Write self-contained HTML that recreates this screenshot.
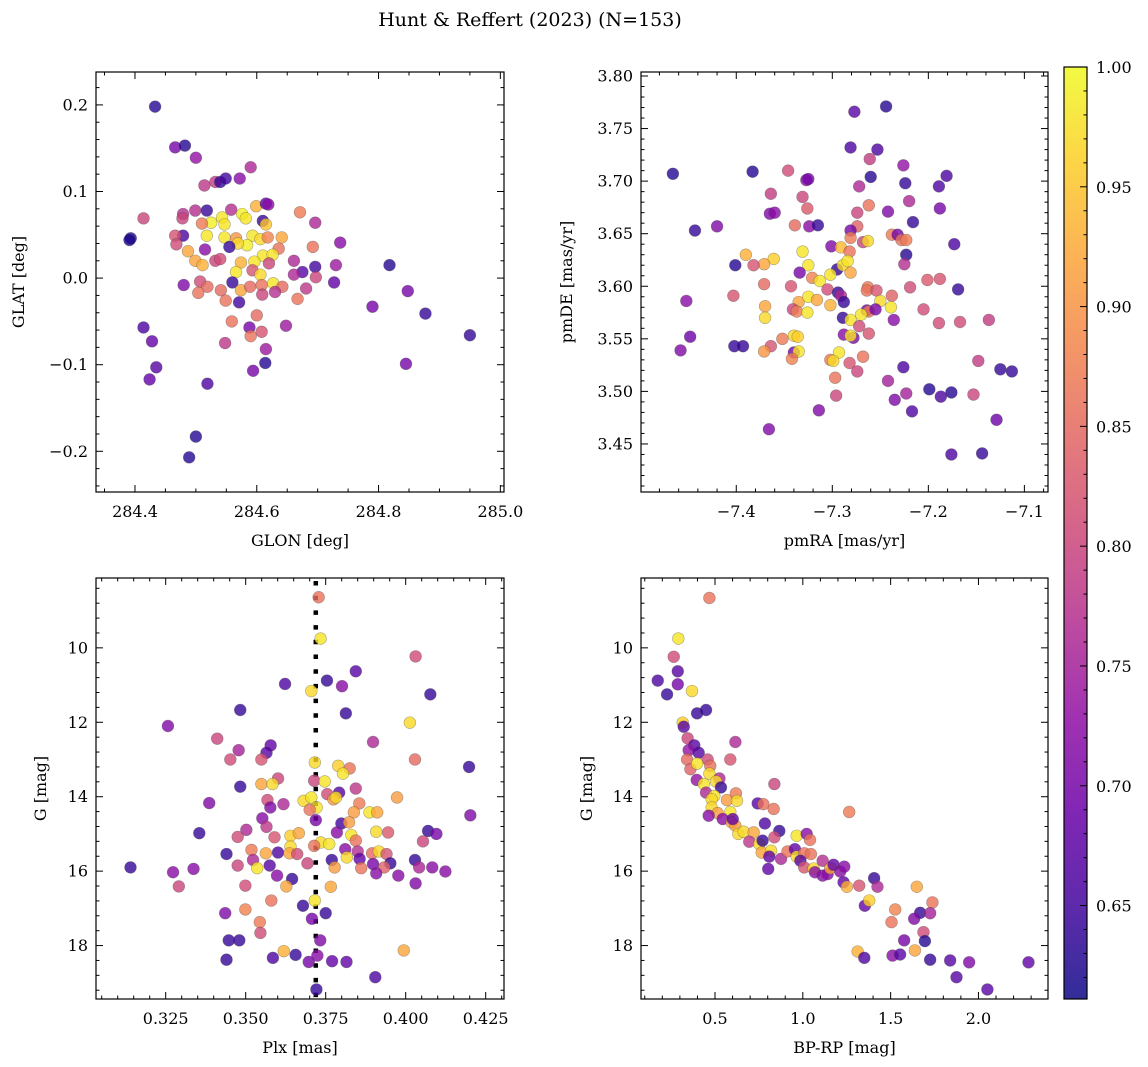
<!DOCTYPE html>
<html><head><meta charset="utf-8">
<style>
html,body{margin:0;padding:0;background:#fff;}
svg{display:block;font-family:"DejaVu Serif","Liberation Serif",serif;}
</style></head>
<body>
<svg id="fig" width="1148" height="1067" viewBox="0 0 1148 1067" xmlns="http://www.w3.org/2000/svg">
<text x="530" y="26" font-size="19" text-anchor="middle">Hunt &amp; Reffert (2023) (N=153)</text>
</svg>
<script>
// ---- Panel 1: GLON / GLAT ----
const glonVals=[284.433,284.466,284.482,284.500,284.590,284.514,284.532,284.540,284.549,284.572,284.599,284.615,284.619,284.671,284.696,284.414,284.393,284.391,284.479,284.478,284.499,284.518,284.558,284.576,284.582,284.543,284.525,284.510,284.547,284.610,284.615,284.479,284.466,284.468,284.518,284.547,284.566,284.593,284.606,284.618,284.641,284.737,284.692,284.636,284.584,284.569,284.555,284.515,284.487,284.610,284.626,284.499,284.511,284.532,284.540,284.574,284.596,284.593,284.620,284.661,284.696,284.730,284.818,284.566,284.606,284.675,284.661,284.697,284.727,284.560,284.480,284.507,284.519,284.504,284.541,284.574,284.589,284.608,284.627,284.642,284.681,284.609,284.630,284.667,284.549,284.571,284.848,284.790,284.877,284.950,284.600,284.559,284.648,284.588,284.590,284.608,284.414,284.428,284.548,284.615,284.614,284.845,284.594,284.435,284.424,284.519,284.500,284.489];
const glatVals=[0.198,0.151,0.153,0.139,0.128,0.107,0.111,0.111,0.115,0.115,0.083,0.086,0.085,0.076,0.064,0.069,0.046,0.044,0.074,0.069,0.078,0.078,0.079,0.074,0.069,0.070,0.064,0.063,0.062,0.066,0.062,0.049,0.049,0.039,0.049,0.047,0.046,0.049,0.045,0.047,0.047,0.041,0.036,0.034,0.038,0.040,0.036,0.033,0.031,0.026,0.027,0.020,0.015,0.020,0.022,0.018,0.019,0.009,0.017,0.020,0.013,0.015,0.015,0.007,0.004,0.007,0.004,0.001,-0.005,-0.005,-0.008,-0.004,-0.010,-0.017,-0.014,-0.014,-0.010,-0.008,-0.006,-0.010,-0.012,-0.019,-0.016,-0.024,-0.026,-0.028,-0.015,-0.033,-0.041,-0.066,-0.043,-0.050,-0.055,-0.057,-0.067,-0.062,-0.057,-0.073,-0.075,-0.082,-0.098,-0.099,-0.107,-0.103,-0.117,-0.122,-0.183,-0.207];
const posProb1=[0.63,0.70,0.63,0.73,0.76,0.78,0.79,0.64,0.65,0.72,0.93,0.68,0.72,0.87,0.76,0.80,0.63,0.62,0.77,0.80,0.77,0.64,0.77,0.99,0.98,0.98,0.99,0.87,0.98,0.64,0.95,0.66,0.82,0.81,0.98,0.98,0.90,0.98,0.97,0.88,0.92,0.72,0.86,0.86,0.99,0.97,0.64,0.72,0.92,0.98,0.98,0.92,0.93,0.80,0.81,0.93,0.98,0.82,0.80,0.76,0.65,0.74,0.63,0.98,0.97,0.67,0.76,0.80,0.68,0.64,0.71,0.81,0.85,0.86,0.85,0.92,0.85,0.86,0.98,0.85,0.78,0.80,0.77,0.86,0.86,0.65,0.70,0.70,0.64,0.64,0.85,0.86,0.74,0.70,0.86,0.82,0.66,0.68,0.78,0.74,0.63,0.70,0.70,0.67,0.68,0.66,0.63,0.63];

// ---- Panel 2: pmRA / pmDE ----
const pmraVals=[-7.466,-7.383,-7.346,-7.327,-7.325,-7.364,-7.331,-7.326,-7.365,-7.360,-7.443,-7.420,-7.339,-7.324,-7.315,-7.277,-7.244,-7.281,-7.253,-7.261,-7.226,-7.260,-7.272,-7.224,-7.181,-7.189,-7.220,-7.262,-7.274,-7.242,-7.188,-7.216,-7.274,-7.281,-7.281,-7.268,-7.263,-7.238,-7.232,-7.228,-7.223,-7.173,-7.301,-7.291,-7.282,-7.331,-7.390,-7.361,-7.371,-7.382,-7.401,-7.223,-7.225,-7.325,-7.334,-7.295,-7.289,-7.284,-7.281,-7.302,-7.321,-7.313,-7.201,-7.188,-7.371,-7.343,-7.305,-7.263,-7.264,-7.254,-7.219,-7.169,-7.403,-7.452,-7.294,-7.291,-7.288,-7.238,-7.250,-7.239,-7.335,-7.325,-7.316,-7.370,-7.302,-7.341,-7.337,-7.326,-7.264,-7.262,-7.270,-7.255,-7.205,-7.370,-7.289,-7.281,-7.272,-7.236,-7.189,-7.167,-7.137,-7.288,-7.278,-7.281,-7.262,-7.340,-7.336,-7.352,-7.448,-7.458,-7.402,-7.393,-7.364,-7.371,-7.340,-7.335,-7.342,-7.293,-7.302,-7.299,-7.268,-7.282,-7.274,-7.148,-7.226,-7.125,-7.113,-7.297,-7.242,-7.199,-7.176,-7.187,-7.223,-7.153,-7.235,-7.296,-7.217,-7.314,-7.129,-7.366,-7.176,-7.144];
const pmdeVals=[3.707,3.709,3.710,3.701,3.702,3.688,3.685,3.674,3.669,3.670,3.653,3.657,3.658,3.657,3.658,3.766,3.771,3.732,3.730,3.721,3.715,3.704,3.695,3.698,3.705,3.695,3.681,3.677,3.670,3.671,3.674,3.661,3.657,3.653,3.646,3.642,3.643,3.649,3.649,3.644,3.644,3.640,3.638,3.637,3.633,3.633,3.630,3.626,3.621,3.620,3.620,3.630,3.621,3.620,3.613,3.616,3.620,3.624,3.613,3.611,3.608,3.605,3.606,3.607,3.602,3.600,3.597,3.599,3.596,3.596,3.599,3.597,3.591,3.586,3.594,3.591,3.585,3.591,3.586,3.580,3.585,3.590,3.587,3.581,3.582,3.578,3.576,3.575,3.577,3.576,3.573,3.578,3.578,3.570,3.570,3.568,3.562,3.568,3.565,3.566,3.568,3.554,3.551,3.553,3.555,3.553,3.552,3.550,3.552,3.539,3.543,3.543,3.543,3.538,3.537,3.538,3.531,3.537,3.530,3.529,3.533,3.527,3.519,3.529,3.523,3.521,3.519,3.513,3.510,3.502,3.499,3.495,3.498,3.497,3.492,3.496,3.481,3.482,3.473,3.464,3.440,3.441];
const pmProb2=[0.63,0.63,0.81,0.72,0.70,0.79,0.80,0.83,0.71,0.72,0.64,0.71,0.85,0.72,0.64,0.67,0.63,0.66,0.66,0.79,0.73,0.63,0.76,0.64,0.66,0.66,0.76,0.86,0.80,0.71,0.70,0.64,0.84,0.70,0.87,0.80,0.97,0.87,0.70,0.86,0.87,0.66,0.71,0.94,0.86,0.98,0.93,0.96,0.92,0.82,0.63,0.63,0.77,0.98,0.70,0.64,0.97,0.98,0.92,0.98,0.88,0.98,0.83,0.82,0.85,0.82,0.81,0.87,0.86,0.82,0.81,0.64,0.82,0.72,0.64,0.76,0.64,0.84,0.97,0.98,0.92,0.98,0.92,0.92,0.93,0.80,0.87,0.98,0.70,0.87,0.98,0.70,0.81,0.97,0.64,0.98,0.81,0.72,0.81,0.81,0.79,0.72,0.71,0.98,0.82,0.97,0.96,0.87,0.69,0.71,0.64,0.64,0.82,0.90,0.70,0.98,0.88,0.98,0.87,0.97,0.86,0.82,0.80,0.79,0.66,0.64,0.64,0.86,0.75,0.63,0.63,0.66,0.75,0.80,0.71,0.80,0.66,0.71,0.69,0.71,0.66,0.64];

// ---- Panel 3: Plx / G ----
const plxVals=[0.3728,0.3734,0.4031,0.3844,0.3754,0.3623,0.3801,0.3705,0.4077,0.3483,0.3813,0.4013,0.3257,0.3411,0.3898,0.3478,0.3578,0.3565,0.3452,0.3549,0.4029,0.4198,0.3716,0.3789,0.3825,0.3804,0.3601,0.3549,0.3584,0.3714,0.3747,0.3483,0.3844,0.3792,0.3755,0.3774,0.3782,0.3568,0.3681,0.3705,0.3722,0.3700,0.3973,0.3386,0.3618,0.3577,0.3855,0.3838,0.3887,0.3911,0.4202,0.3552,0.3719,0.3799,0.3823,0.3565,0.3502,0.3785,0.3830,0.3908,0.3945,0.4070,0.4096,0.3475,0.3590,0.3640,0.3666,0.3355,0.4054,0.3844,0.3735,0.3761,0.3714,0.3640,0.3518,0.3563,0.3601,0.3637,0.3661,0.3811,0.3850,0.3895,0.3916,0.3940,0.3440,0.3816,0.3769,0.3856,0.3523,0.4029,0.3952,0.3898,0.3693,0.3575,0.3475,0.3536,0.3140,0.3778,0.3861,0.3933,0.4042,0.4083,0.3337,0.3273,0.4124,0.3908,0.3977,0.3598,0.3645,0.3291,0.3499,0.3627,0.3766,0.4031,0.3716,0.3580,0.3679,0.3499,0.3436,0.3750,0.3707,0.3544,0.3546,0.3447,0.3480,0.3733,0.3994,0.3619,0.3440,0.3585,0.3656,0.3697,0.3724,0.3770,0.3815,0.3905,0.3721];
const gmag3=[8.64,9.75,10.23,10.63,10.88,10.97,11.03,11.16,11.25,11.67,11.76,12.01,12.10,12.44,12.53,12.75,12.62,12.82,13.00,13.00,13.00,13.20,13.08,13.17,13.24,13.38,13.51,13.66,13.66,13.57,13.59,13.73,13.78,13.89,13.93,14.07,14.02,14.09,14.11,14.02,14.29,14.35,14.02,14.17,14.20,14.29,14.18,14.42,14.42,14.42,14.50,14.58,14.63,14.72,14.69,14.81,14.89,14.96,15.03,14.94,14.96,14.92,15.00,15.08,15.09,15.05,14.98,14.98,15.20,15.18,15.23,15.27,15.32,15.34,15.43,15.52,15.50,15.52,15.54,15.41,15.47,15.52,15.47,15.54,15.54,15.63,15.70,15.67,15.70,15.70,15.79,15.81,15.79,15.85,15.85,15.92,15.90,15.90,15.92,15.90,15.90,15.90,15.94,16.03,16.01,16.06,16.12,16.12,16.21,16.41,16.39,16.41,16.42,16.33,16.79,16.79,16.93,17.03,17.13,17.13,17.28,17.37,17.66,17.86,17.86,17.86,18.13,18.15,18.38,18.33,18.25,18.44,18.27,18.42,18.44,18.85,19.18];
const plxProb3=[0.86,0.98,0.81,0.67,0.64,0.66,0.72,0.97,0.64,0.64,0.64,0.97,0.71,0.80,0.76,0.75,0.68,0.67,0.81,0.82,0.85,0.64,0.97,0.96,0.86,0.98,0.80,0.92,0.97,0.80,0.98,0.64,0.78,0.67,0.81,0.91,0.97,0.81,0.97,0.98,0.98,0.86,0.91,0.71,0.76,0.71,0.87,0.91,0.98,0.92,0.71,0.72,0.70,0.65,0.91,0.78,0.76,0.72,0.98,0.97,0.83,0.64,0.70,0.81,0.82,0.96,0.92,0.64,0.80,0.86,0.97,0.98,0.86,0.97,0.87,0.92,0.66,0.92,0.81,0.72,0.77,0.85,0.97,0.82,0.64,0.97,0.64,0.68,0.76,0.64,0.64,0.70,0.80,0.67,0.80,0.98,0.64,0.91,0.86,0.84,0.76,0.72,0.72,0.72,0.72,0.72,0.72,0.72,0.64,0.80,0.81,0.92,0.92,0.71,0.98,0.86,0.64,0.88,0.71,0.64,0.70,0.87,0.81,0.64,0.64,0.71,0.92,0.93,0.64,0.66,0.64,0.70,0.72,0.68,0.68,0.66,0.64];
const meanPlx=0.3719;

// ---- Panel 4: BP-RP / G ----
const bprpVals=[0.468,0.291,0.265,0.288,0.174,0.288,0.227,0.369,0.398,0.449,0.316,0.322,0.616,0.344,0.382,0.350,0.407,0.341,0.587,0.458,0.360,0.398,0.473,0.838,0.396,0.468,0.525,0.436,0.506,0.534,0.449,0.496,0.481,0.568,0.619,0.625,0.743,0.775,0.834,1.264,0.481,0.587,0.515,0.464,0.544,0.595,0.784,0.616,0.601,0.633,0.663,0.720,0.695,0.866,0.838,0.752,0.771,0.766,0.819,0.876,0.809,0.803,0.965,1.022,1.041,0.913,0.955,0.965,1.008,1.046,0.986,1.008,1.061,1.069,1.113,1.113,1.141,1.156,1.175,1.213,1.236,1.232,1.251,1.321,1.406,1.425,1.353,1.378,1.649,1.738,1.526,1.668,1.634,1.725,1.505,1.687,1.695,1.577,1.312,1.350,1.511,1.554,1.638,1.725,1.839,1.947,2.285,1.875,2.051];
const gmag4=[8.66,9.75,10.24,10.63,10.88,10.98,11.25,11.16,11.76,11.67,12.01,12.12,12.53,12.43,12.62,12.75,12.82,13.00,13.00,13.00,13.26,13.11,13.17,13.66,13.55,13.38,13.51,13.66,13.59,13.75,13.89,13.98,14.07,14.09,13.91,14.11,14.18,14.20,14.33,14.41,14.29,14.41,14.44,14.51,14.60,14.69,14.72,14.78,14.60,15.00,14.94,14.96,15.21,14.92,15.09,15.27,15.18,15.50,15.45,15.67,15.61,15.94,15.05,15.00,15.16,15.47,15.41,15.61,15.52,15.54,15.72,15.90,15.93,16.03,15.72,16.12,16.08,15.92,15.83,16.01,15.88,16.30,16.42,16.39,16.19,16.42,16.93,16.79,16.42,16.84,17.03,17.12,17.28,17.13,17.37,17.64,17.88,17.86,18.16,18.33,18.27,18.24,18.13,18.38,18.40,18.45,18.45,18.85,19.18];
const cmdProb4=[0.86,0.98,0.81,0.67,0.66,0.70,0.64,0.97,0.64,0.64,0.96,0.67,0.76,0.80,0.67,0.73,0.67,0.85,0.82,0.81,0.84,0.98,0.86,0.80,0.73,0.97,0.76,0.98,0.97,0.64,0.76,0.98,0.97,0.91,0.87,0.97,0.67,0.86,0.86,0.87,0.97,0.98,0.91,0.72,0.72,0.91,0.66,0.91,0.68,0.97,0.97,0.92,0.78,0.64,0.81,0.97,0.64,0.92,0.97,0.76,0.68,0.68,0.98,0.72,0.86,0.86,0.68,0.97,0.86,0.86,0.67,0.82,0.97,0.72,0.77,0.72,0.72,0.92,0.68,0.72,0.72,0.68,0.93,0.82,0.64,0.76,0.68,0.96,0.92,0.86,0.88,0.64,0.71,0.75,0.86,0.81,0.63,0.70,0.93,0.66,0.72,0.67,0.92,0.64,0.67,0.71,0.68,0.67,0.67];

// ---- Colorbar ----
const cbTicks=[0.65,0.70,0.75,0.80,0.85,0.90,0.95,1.00];
const vmin=0.611, vmax=1.0;

const NS="http://www.w3.org/2000/svg";
const svg=document.getElementById('fig');
function mk(tag,attrs,parent){const e=document.createElementNS(NS,tag);for(const k in attrs)e.setAttribute(k,attrs[k]);(parent||svg).appendChild(e);return e;}

const plasma=[[13,8,135],[65,4,157],[106,0,168],[143,13,164],[177,42,144],[204,71,120],[225,100,98],[242,132,75],[252,166,54],[252,206,37],[240,249,33]];
function cmap(v){let t=(v-vmin)/(vmax-vmin);t=Math.max(0,Math.min(1,t))*10;const i=Math.min(9,Math.floor(t)),f=t-i;const a=plasma[i],b=plasma[i+1];return 'rgb('+[0,1,2].map(k=>Math.round(a[k]+(b[k]-a[k])*f)).join(',')+')';}
function fmtNeg(s){return s.replace('-','\u2212');}

function panel(cfg){
  const g=mk('g',{});
  
  
  const {x0,x1,y0,y1,xmin,xmax,ymin,ymax}=cfg;
  const sx=v=>x0+(v-xmin)/(xmax-xmin)*(x1-x0);
  const sy=cfg.invert?(v=>y0+(v-ymin)/(ymax-ymin)*(y1-y0)):(v=>y1-(v-ymin)/(ymax-ymin)*(y1-y0));
  const clip='clip-'+cfg.name;
  const cp=mk('clipPath',{id:clip},g);mk('rect',{x:x0,y:y0,width:x1-x0,height:y1-y0},cp);
  const pts=mk('g',{'clip-path':'url(#'+clip+')'},g);
  
  
  if(cfg.vline!==undefined){
    const l=mk('line',{x1:sx(cfg.vline),x2:sx(cfg.vline),y1:y0+3,y2:y1,stroke:'#000','stroke-width':4.5,'stroke-dasharray':'4.5 10.2'},pts);
    
    
  }
  for(let i=0;i<cfg.xs.length;i++){
    const c=mk('circle',{cx:sx(cfg.xs[i]),cy:sy(cfg.ys[i]),r:5.9,fill:cmap(cfg.cs[i]),'fill-opacity':0.8,stroke:'#444','stroke-opacity':0.45,'stroke-width':0.6},pts);
    
    
  }
  const fr=mk('rect',{x:x0,y:y0,width:x1-x0,height:y1-y0,fill:'none',stroke:'#000','stroke-width':1.2},g);
  
  
  const tk=mk('g',{stroke:'#000','stroke-width':1},g);
  const eps=1e-9;
  for(let v=Math.ceil(xmin/cfg.xminor-eps)*cfg.xminor;v<=xmax+eps;v+=cfg.xminor){
    const isMaj=Math.abs(v/cfg.xmajor-Math.round(v/cfg.xmajor))<1e-6;const L=isMaj?7:3.5;const X=sx(v);
    mk('line',{x1:X,x2:X,y1:y1,y2:y1-L},tk);mk('line',{x1:X,x2:X,y1:y0,y2:y0+L},tk);
  }
  for(let v=Math.ceil(ymin/cfg.yminor-eps)*cfg.yminor;v<=ymax+eps;v+=cfg.yminor){
    const isMaj=Math.abs(v/cfg.ymajor-Math.round(v/cfg.ymajor))<1e-6;const L=isMaj?7:3.5;const Y=sy(v);
    mk('line',{x1:x0,x2:x0+L,y1:Y,y2:Y},tk);mk('line',{x1:x1,x2:x1-L,y1:Y,y2:Y},tk);
  }
  cfg.xticks.forEach((v,i)=>{const t=mk('text',{x:sx(v),y:y1+25,'font-size':16,'text-anchor':'middle'},g);t.textContent=fmtNeg(cfg.xlabels[i]);
    
    });
  cfg.yticks.forEach((v,i)=>{const t=mk('text',{x:x0-8,y:sy(v)+5.5,'font-size':16,'text-anchor':'end'},g);t.textContent=fmtNeg(cfg.ylabels[i]);
    
    });
  const xt=mk('text',{x:(x0+x1)/2,y:y1+54,'font-size':16,'text-anchor':'middle'},g);xt.textContent=cfg.xtitle;
  
  
  const yx=cfg.ytx,yy=(y0+y1)/2;
  const yt=mk('text',{x:yx,y:yy,'font-size':16,'text-anchor':'middle',transform:'rotate(-90 '+yx+' '+yy+')'},g);yt.textContent=cfg.ytitle;
  
  
}

panel({name:'glon-glat-panel',x0:96,x1:504,y0:72,y1:492,xmin:284.336,xmax:285.006,ymin:-0.247,ymax:0.238,
  xs:glonVals,ys:glatVals,cs:posProb1,xmajor:0.2,xminor:0.05,ymajor:0.1,yminor:0.02,
  xticks:[284.4,284.6,284.8,285.0],xlabels:['284.4','284.6','284.8','285.0'],
  yticks:[-0.2,-0.1,0,0.1,0.2],ylabels:['-0.2','-0.1','0.0','0.1','0.2'],xtitle:'GLON [deg]',ytitle:'GLAT [deg]',ytx:24});
panel({name:'pm-panel',x0:641,x1:1048,y0:72,y1:492,xmin:-7.4992,xmax:-7.0754,ymin:3.4043,ymax:3.8038,
  xs:pmraVals,ys:pmdeVals,cs:pmProb2,xmajor:0.1,xminor:0.02,ymajor:0.05,yminor:0.01,
  xticks:[-7.4,-7.3,-7.2,-7.1],xlabels:['-7.4','-7.3','-7.2','-7.1'],
  yticks:[3.45,3.5,3.55,3.6,3.65,3.7,3.75,3.8],ylabels:['3.45','3.50','3.55','3.60','3.65','3.70','3.75','3.80'],xtitle:'pmRA [mas/yr]',ytitle:'pmDE [mas/yr]',ytx:572});
panel({name:'plx-g-panel',x0:96,x1:504,y0:578,y1:999,xmin:0.30322,xmax:0.43072,ymin:8.123,ymax:19.436,invert:true,
  xs:plxVals,ys:gmag3,cs:plxProb3,vline:meanPlx,xmajor:0.025,xminor:0.005,ymajor:2,yminor:0.4,
  xticks:[0.325,0.35,0.375,0.4,0.425],xlabels:['0.325','0.350','0.375','0.400','0.425'],
  yticks:[10,12,14,16,18],ylabels:['10','12','14','16','18'],xtitle:'Plx [mas]',ytitle:'G [mag]',ytx:46});
panel({name:'cmd-panel',x0:641,x1:1048,y0:578,y1:999,xmin:0.0786,xmax:2.396,ymin:8.123,ymax:19.436,invert:true,
  xs:bprpVals,ys:gmag4,cs:cmdProb4,xmajor:0.5,xminor:0.1,ymajor:2,yminor:0.4,
  xticks:[0.5,1.0,1.5,2.0],xlabels:['0.5','1.0','1.5','2.0'],
  yticks:[10,12,14,16,18],ylabels:['10','12','14','16','18'],xtitle:'BP-RP [mag]',ytitle:'G [mag]',ytx:592});

(function(){
  const cx0=1064,cx1=1087,cy0=67,cy1=999;
  const cg=mk('g',{});
  
  
  const defs=mk('defs',{},cg);
  const lg=mk('linearGradient',{id:'cbgrad',x1:0,y1:1,x2:0,y2:0},defs);
  for(let i=0;i<=20;i++){const v=vmin+(vmax-vmin)*i/20;mk('stop',{offset:i/20,'stop-color':cmap(v),'stop-opacity':0.85},lg);}
  mk('rect',{x:cx0,y:cy0,width:cx1-cx0,height:cy1-cy0,fill:'url(#cbgrad)',stroke:'#000','stroke-width':1.2},cg);
  const sy=v=>cy1-(v-vmin)/(vmax-vmin)*(cy1-cy0);
  for(let v=0.62;v<=1.0001;v+=0.01){const Y=sy(v);const maj=Math.abs(v*20-Math.round(v*20))<1e-6;mk('line',{x1:cx1,x2:cx1-(maj?7:3.5),y1:Y,y2:Y,stroke:'#000','stroke-width':1},cg);}
  cbTicks.forEach(v=>{const t=mk('text',{x:1096,y:sy(v)+6,'font-size':16},cg);t.textContent=v.toFixed(2);
    
    });
})();
</script>
</body></html>
